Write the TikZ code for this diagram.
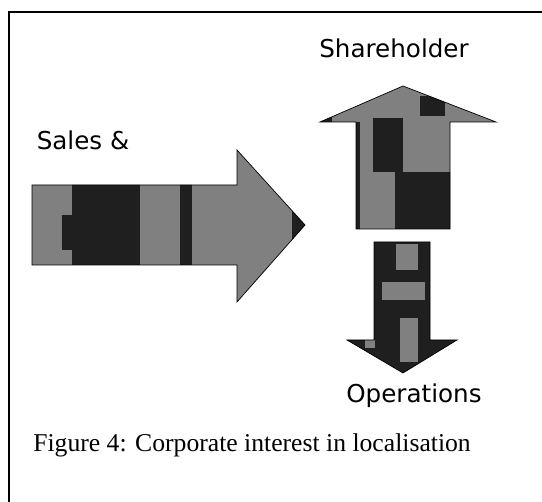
\documentclass[tikz,border=0pt]{standalone}
\usepackage{fontspec}
\setmainfont{Liberation Serif}
\newfontfamily\labelfont{DejaVu Sans}
\usetikzlibrary{positioning}

\tikzset{
  dither/.style={fill=black!50},
  blot/.style={fill=black!88},
  label text/.style={font=\labelfont\fontsize{14}{16}\selectfont, inner sep=0pt},
  caption text/.style={font=\fontsize{14.6}{17}\selectfont, inner sep=0pt},
}

% outlines of the three arrows
\def\shpsales{(32,185) -- (237,185) -- (237,150) -- (305,225) -- (237,302) -- (237,265) -- (32,265) -- cycle}
\def\shpshare{(356,229) -- (356,122) -- (320,122) -- (403,86) -- (496,122) -- (450,122) -- (450,229) -- cycle}
\def\shpops{(374,242) -- (430,242) -- (430,340) -- (457,340) -- (403,373) -- (347,340) -- (374,340) -- cycle}

\begin{document}
\begin{tikzpicture}[x=0.02cm, y=-0.02cm]
    \useasboundingbox (0,0) rectangle (542,502);
    \draw[line width=1.1pt] (9,502) -- (9,12) -- (542,12);

    % sales arrow
    \path[dither] \shpsales;
    \begin{scope}
        \clip \shpsales;
        \path[blot] (72,180) rectangle (140,270);
        \path[blot] (180,180) rectangle (192,270);
        \path[blot] (62,215) rectangle (72,250);
        \path[blot] (292,140) rectangle (310,310);
    \end{scope}
    \draw[line width=0.4pt] \shpsales;

    % shareholder arrow
    \path[dither] \shpshare;
    \begin{scope}
        \clip \shpshare;
        \path[blot] (373,118) rectangle (403,172);
        \path[blot] (395,172) rectangle (452,232);
        \path[blot] (420,96) rectangle (445,116);
        \path[blot] (316,112) rectangle (332,124);
        \path[blot] (352,122) rectangle (360,232);
    \end{scope}
    \draw[line width=0.4pt] \shpshare;

    % operations arrow
    \path[blot] \shpops;
    \begin{scope}
        \clip \shpops;
        \path[dither] (396,244) rectangle (418,270);
        \path[dither] (382,282) rectangle (425,300);
        \path[dither] (400,318) rectangle (418,362);
        \path[dither] (365,340) rectangle (375,348);
    \end{scope}
    \draw[line width=0.4pt] \shpops;

    \node[label text] (share) at (394,48) {Shareholder};
    \node[label text] (sales) at (83,140) {Sales \&};
    \node[label text] (ops) at (414,396) {Operations};
    \node[caption text, anchor=base west] (cap) at (33,452) {Figure 4: Corporate interest in localisation};
\end{tikzpicture}
\end{document}
